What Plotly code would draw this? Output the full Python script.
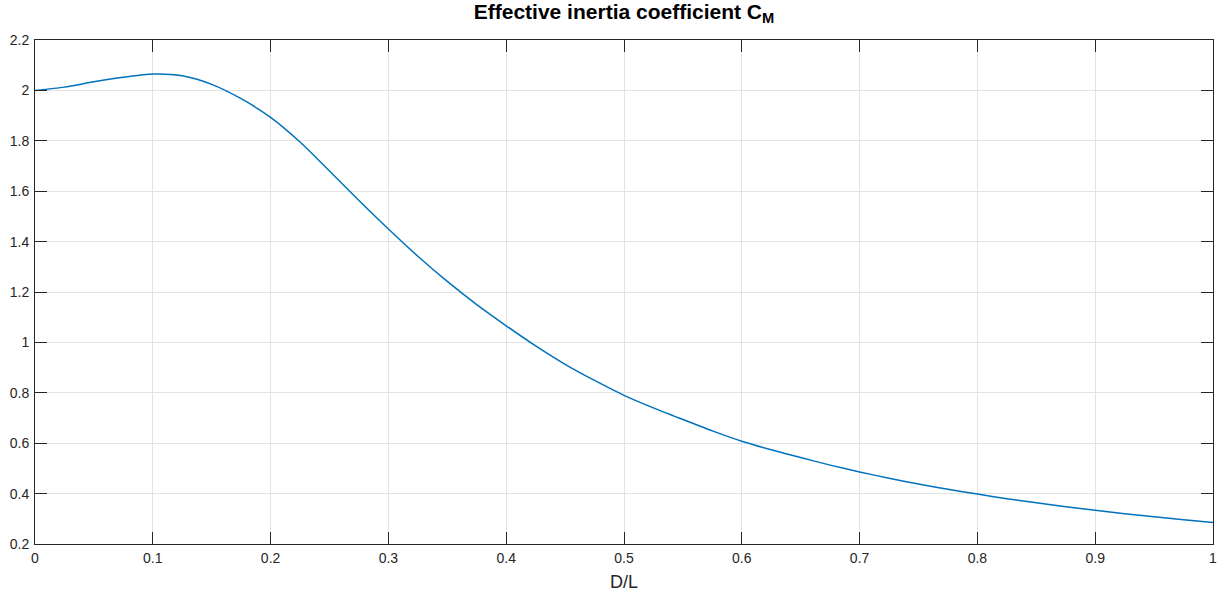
import plotly.graph_objects as go

# Data
d_over_l = [0.0, 0.025, 0.05, 0.075, 0.1, 0.125, 0.15, 0.175, 0.2, 0.225, 0.25, 0.275,
            0.3, 0.325, 0.35, 0.375, 0.4, 0.425, 0.45, 0.475, 0.5, 0.525, 0.55, 0.575,
            0.6, 0.625, 0.65, 0.675, 0.7, 0.725, 0.75, 0.775, 0.8, 0.825, 0.85, 0.875,
            0.9, 0.925, 0.95, 0.975, 1.0]
cm_values = [2.000, 2.013, 2.034, 2.052, 2.065, 2.058, 2.024, 1.967, 1.893, 1.795, 1.680, 1.563,
             1.450, 1.342, 1.242, 1.150, 1.066, 0.986, 0.913, 0.849, 0.790, 0.740, 0.694, 0.649,
             0.608, 0.574, 0.543, 0.513, 0.486, 0.461, 0.438, 0.417, 0.398, 0.380, 0.364, 0.348,
             0.334, 0.320, 0.308, 0.296, 0.285]

x_ticks = [0, 0.1, 0.2, 0.3, 0.4, 0.5, 0.6, 0.7, 0.8, 0.9, 1]
x_tick_labels = ["0", "0.1", "0.2", "0.3", "0.4", "0.5", "0.6", "0.7", "0.8", "0.9", "1"]
y_ticks = [0.2, 0.4, 0.6, 0.8, 1.0, 1.2, 1.4, 1.6, 1.8, 2.0, 2.2]
y_tick_labels = ["0.2", "0.4", "0.6", "0.8", "1", "1.2", "1.4", "1.6", "1.8", "2", "2.2"]

FONT = "Liberation Sans, Arial, Helvetica, sans-serif"

fig = go.Figure()
fig.add_trace(go.Scatter(
    x=d_over_l, y=cm_values, mode="lines",
    line=dict(color="#0072BD", width=1.5, shape="spline", smoothing=0.7),
    showlegend=False, hoverinfo="x+y",
))

axis_common = dict(
    showline=True, linecolor="#262626", linewidth=1, mirror="allticks",
    ticks="inside", ticklen=12, tickcolor="#262626", tickwidth=1,
    showgrid=True, gridcolor="#e3e3e3", gridwidth=1, zeroline=False,
    automargin=False,
    tickfont=dict(family=FONT, size=14, color="#262626"),
)

fig.update_layout(
    width=1225, height=599,
    margin=dict(l=35, r=12, t=40, b=55),
    paper_bgcolor="white", plot_bgcolor="white",
    title=dict(
        text="<b>Effective inertia coefficient C<sub>M</sub></b>",
        x=0.5, xanchor="center", xref="paper", y=0.993, yanchor="top",
        font=dict(family=FONT, size=21, color="black"),
    ),
    xaxis=dict(
        range=[0, 1], tickvals=x_ticks, ticktext=x_tick_labels,
        title=dict(text="D/L", standoff=10,
                   font=dict(family=FONT, size=18, color="#262626")),
        ticklabelstandoff=1,
        **axis_common,
    ),
    yaxis=dict(
        range=[0.2, 2.2], tickvals=y_ticks, ticktext=y_tick_labels,
        ticklabelstandoff=2,
        **axis_common,
    ),
)

fig.write_html(
    "out.html",
    config={"displayModeBar": False},
    post_script="document.body.style.margin='0';document.body.style.padding='0';document.body.style.overflow='hidden';",
)
